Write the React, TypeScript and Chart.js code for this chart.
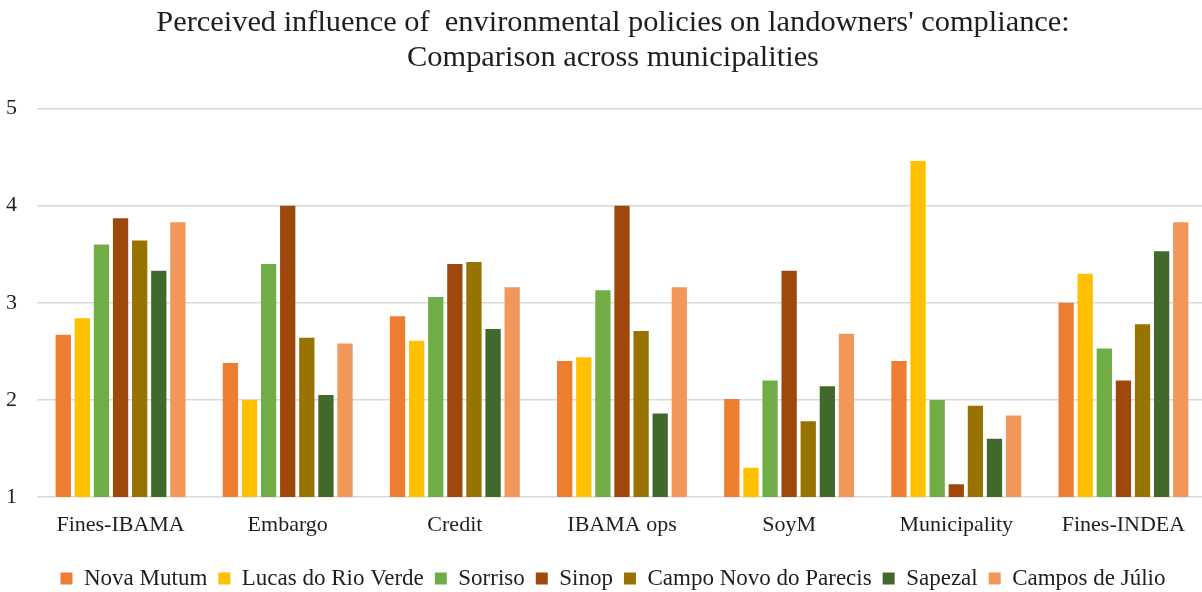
import React, { useEffect, useRef } from "react";
import { Chart, registerables } from "chart.js";

Chart.register(...registerables);

const categories = ["Fines-IBAMA", "Embargo", "Credit", "IBAMA ops", "SoyM", "Municipality", "Fines-INDEA"];
const seriesNames = ["Nova Mutum", "Lucas do Rio Verde", "Sorriso", "Sinop", "Campo Novo do Parecis", "Sapezal", "Campos de Júlio"];
const seriesColors = ["#ED7D31", "#FFC000", "#70AD47", "#9E480E", "#997300", "#43682B", "#F1975A"];

const novaMutum = [2.67, 2.38, 2.86, 2.4, 2.01, 2.4, 3.0];
const lucasDoRioVerde = [2.84, 2.0, 2.61, 2.44, 1.3, 4.46, 3.3];
const sorriso = [3.6, 3.4, 3.06, 3.13, 2.2, 2.0, 2.53];
const sinop = [3.87, 4.0, 3.4, 4.0, 3.33, 1.13, 2.2];
const campoNovoDoParecis = [3.64, 2.64, 3.42, 2.71, 1.78, 1.94, 2.78];
const sapezal = [3.33, 2.05, 2.73, 1.86, 2.14, 1.6, 3.53];
const camposDeJulio = [3.83, 2.58, 3.16, 3.16, 2.68, 1.84, 3.83];

const seriesValues = [novaMutum, lucasDoRioVerde, sorriso, sinop, campoNovoDoParecis, sapezal, camposDeJulio];
const yTicks = [1, 2, 3, 4, 5];

const titleLines = [
  "Perceived influence of  environmental policies on landowners' compliance:",
  "Comparison across municipalities",
];

const FONT = "'Liberation Serif', 'DejaVu Serif', serif";
const TEXT = "#1e1e1e";

export default function App() {
  const ref = useRef<HTMLCanvasElement | null>(null);

  useEffect(() => {
    if (!ref.current) return;
    const chart = new Chart(ref.current, {
      type: "bar",
      data: {
        labels: categories,
        datasets: seriesNames.map((name, i) => ({
          label: name,
          data: seriesValues[i],
          backgroundColor: seriesColors[i],
          borderWidth: 0,
          categoryPercentage: 0.8,
          barPercentage: 0.8,
        })),
      },
      options: {
        animation: false,
        responsive: false,
        maintainAspectRatio: false,
        layout: { padding: { left: 0, right: 0, top: 0, bottom: 0 } },
        plugins: {
          title: {
            display: true,
            text: titleLines,
            color: TEXT,
            font: { family: FONT, size: 30.4, weight: "normal", lineHeight: 1.16 },
            padding: { top: 5, bottom: 33 },
          },
          legend: {
            position: "bottom",
            labels: {
              color: TEXT,
              font: { family: FONT, size: 23 },
              boxWidth: 12,
              boxHeight: 12,
              padding: 11,
            },
          },
          tooltip: { enabled: false },
        },
        scales: {
          x: {
            grid: { display: false, drawTicks: false },
            border: { display: false },
            afterFit: (scale: any) => {
              scale.height = 59;
            },
            ticks: {
              color: TEXT,
              font: { family: FONT, size: 22 },
              padding: 15,
              maxRotation: 0,
              autoSkip: false,
            },
          },
          y: {
            min: 1,
            max: 5,
            afterBuildTicks: (scale: any) => {
              scale.ticks = yTicks.map((v) => ({ value: v }));
            },
            afterFit: (scale: any) => {
              scale.width = 37;
            },
            grid: { color: "#d9d9d9", lineWidth: 1.6, drawTicks: false },
            border: { display: false },
            ticks: {
              color: TEXT,
              font: { family: FONT, size: 22 },
              padding: 20,
            },
          },
          yRight: {
            position: "right",
            min: 1,
            max: 5,
            grid: { display: false, drawTicks: false },
            border: { display: false },
            ticks: { display: false },
            afterFit: (scale: any) => {
              scale.width = 19;
            },
          },
        },
      },
    });
    return () => chart.destroy();
  }, []);

  return (
    <div style={{ position: "fixed", left: 0, top: 0, width: 1202, height: 592, overflow: "hidden", background: "#fff" }}>
      <canvas ref={ref} width={1226} height={600} style={{ display: "block" }} />
    </div>
  );
}
